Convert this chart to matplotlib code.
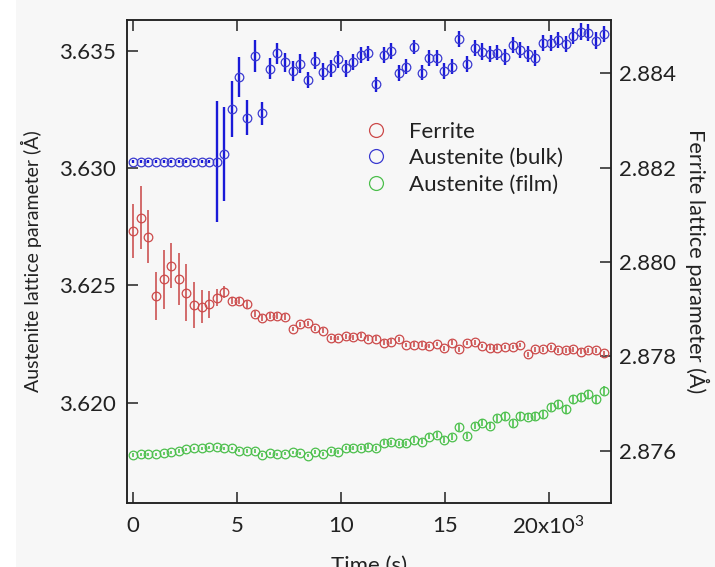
import numpy as np
import matplotlib
matplotlib.use("Agg")
import matplotlib.pyplot as plt
from matplotlib.lines import Line2D
from matplotlib.patches import Rectangle

plt.rcParams['font.family'] = ['Lato', 'DejaVu Sans']
plt.rcParams['mathtext.fontset'] = 'custom'
plt.rcParams['mathtext.rm'] = 'Lato'
plt.rcParams['mathtext.it'] = 'Lato'

# ---------------- data ----------------
time_s = np.arange(63) * 365.0  # sample times (s)

austenite_bulk = [3.63028, 3.63028, 3.63028, 3.63028, 3.63028, 3.63028, 3.63028, 3.63028,
                  3.63028, 3.63028, 3.63028, 3.63028, 3.63061, 3.63252, 3.63388, 3.63216,
                  3.63479, 3.63234, 3.63425, 3.63490, 3.63452, 3.63416, 3.63445, 3.63376,
                  3.63459, 3.63412, 3.63426, 3.63465, 3.63426, 3.63454, 3.63483, 3.63490,
                  3.63359, 3.63483, 3.63500, 3.63407, 3.63433, 3.63518, 3.63407, 3.63471,
                  3.63469, 3.63416, 3.63433, 3.63550, 3.63445, 3.63512, 3.63497, 3.63487,
                  3.63493, 3.63473, 3.63526, 3.63504, 3.63486, 3.63469, 3.63535, 3.63533,
                  3.63547, 3.63530, 3.63564, 3.63582, 3.63578, 3.63543, 3.63572]
austenite_bulk_err = [0.00008, 0.00008, 0.00008, 0.00008, 0.00008, 0.00008, 0.00008, 0.00008,
                      0.00008, 0.00008, 0.00008, 0.00257, 0.00200, 0.00120, 0.00086, 0.00073,
                      0.00069, 0.00048, 0.00045, 0.00044, 0.00040, 0.00043, 0.00040, 0.00036,
                      0.00038, 0.00036, 0.00035, 0.00036, 0.00035, 0.00034, 0.00035, 0.00033,
                      0.00032, 0.00034, 0.00033, 0.00034, 0.00033, 0.00030, 0.00033, 0.00034,
                      0.00033, 0.00034, 0.00033, 0.00034, 0.00033, 0.00034, 0.00035, 0.00034,
                      0.00033, 0.00034, 0.00035, 0.00034, 0.00033, 0.00034, 0.00035, 0.00034,
                      0.00033, 0.00034, 0.00035, 0.00036, 0.00035, 0.00036, 0.00034]

austenite_film = [3.61777, 3.61780, 3.61780, 3.61780, 3.61784, 3.61788, 3.61794, 3.61801,
                  3.61805, 3.61805, 3.61809, 3.61809, 3.61805, 3.61805, 3.61795, 3.61794,
                  3.61794, 3.61777, 3.61784, 3.61780, 3.61783, 3.61788, 3.61784, 3.61774,
                  3.61788, 3.61781, 3.61795, 3.61788, 3.61805, 3.61805, 3.61808, 3.61812,
                  3.61805, 3.61829, 3.61831, 3.61827, 3.61827, 3.61841, 3.61834, 3.61855,
                  3.61862, 3.61840, 3.61855, 3.61895, 3.61858, 3.61900, 3.61914, 3.61902,
                  3.61933, 3.61943, 3.61912, 3.61944, 3.61940, 3.61944, 3.61951, 3.61983,
                  3.61994, 3.61971, 3.62014, 3.62023, 3.62035, 3.62014, 3.62051]
austenite_film_err = [0.00007, 0.00007, 0.00007, 0.00007, 0.00007, 0.00007, 0.00007, 0.00007,
                      0.00007, 0.00007, 0.00007, 0.00007, 0.00007, 0.00007, 0.00007, 0.00007,
                      0.00007, 0.00007, 0.00007, 0.00007, 0.00007, 0.00007, 0.00007, 0.00007,
                      0.00008, 0.00008, 0.00008, 0.00008, 0.00009, 0.00009, 0.00009, 0.00010,
                      0.00010, 0.00010, 0.00011, 0.00011, 0.00011, 0.00012, 0.00012, 0.00012,
                      0.00013, 0.00013, 0.00013, 0.00014, 0.00014, 0.00014, 0.00015, 0.00015,
                      0.00015, 0.00016, 0.00016, 0.00016, 0.00016, 0.00017, 0.00017, 0.00017,
                      0.00017, 0.00018, 0.00018, 0.00018, 0.00018, 0.00018, 0.00018]

ferrite = [2.88066, 2.88094, 2.88054, 2.87928, 2.87963, 2.87992, 2.87963, 2.87935,
           2.87909, 2.87905, 2.87910, 2.87924, 2.87937, 2.87918, 2.87918, 2.87910,
           2.87889, 2.87881, 2.87885, 2.87885, 2.87884, 2.87858, 2.87868, 2.87870,
           2.87859, 2.87854, 2.87839, 2.87839, 2.87842, 2.87840, 2.87844, 2.87837,
           2.87837, 2.87829, 2.87831, 2.87836, 2.87824, 2.87825, 2.87825, 2.87822,
           2.87826, 2.87817, 2.87829, 2.87815, 2.87828, 2.87830, 2.87822, 2.87818,
           2.87818, 2.87820, 2.87820, 2.87824, 2.87804, 2.87815, 2.87815, 2.87819,
           2.87813, 2.87813, 2.87815, 2.87810, 2.87813, 2.87813, 2.87806]
ferrite_err = [0.00057, 0.00067, 0.00057, 0.00051, 0.00062, 0.00048, 0.00055, 0.00061,
               0.00049, 0.00035, 0.00028, 0.00018, 0.00013, 0.00008, 0.00008, 0.00008,
               0.00006, 0.00006, 0.00006, 0.00006, 0.00006, 0.00005, 0.00005, 0.00005,
               0.00005, 0.00005, 0.00005, 0.00005, 0.00005, 0.00005, 0.00005, 0.00005,
               0.00005, 0.00005, 0.00005, 0.00005, 0.00005, 0.00005, 0.00005, 0.00005,
               0.00005, 0.00005, 0.00005, 0.00005, 0.00005, 0.00005, 0.00005, 0.00005,
               0.00005, 0.00005, 0.00005, 0.00005, 0.00005, 0.00005, 0.00005, 0.00005,
               0.00005, 0.00005, 0.00005, 0.00005, 0.00005, 0.00005, 0.00005]

x_ticks = [0, 5000, 10000, 15000, 20000]
x_tick_labels = ['0', '5', '10', '15', r'20x10$^{3}$']
left_ticks = [3.620, 3.625, 3.630, 3.635]
left_tick_labels = ['3.620', '3.625', '3.630', '3.635']
right_ticks = [2.876, 2.878, 2.880, 2.882, 2.884]
right_tick_labels = ['2.876', '2.878', '2.880', '2.882', '2.884']

# ---------------- style ----------------
BG = '#f7f7f7'
RED_M, RED_E = '#cc4a4a', '#d06060'
BLUE_M, BLUE_E = '#3a3ad0', '#1a1ad8'
GREEN_M, GREEN_E = '#4cbf4c', '#5cc85c'
FS = 16

W, H = 715, 567
fig = plt.figure(figsize=(W / 100, H / 100), dpi=100, facecolor=BG)
fig.patches.append(Rectangle((0, 0), 16 / W, 1, transform=fig.transFigure,
                             facecolor='white', edgecolor='none', zorder=-10))

L, R, T, B = 126.7, 610.7, 20, 503
ax = fig.add_axes([L / W, 1 - B / H, (R - L) / W, (B - T) / H])
ax.set_facecolor(BG)
ax2 = ax.twinx()

ms, mew, elw = 6.2, 0.9, 1.3

ax.errorbar(time_s, austenite_film, yerr=austenite_film_err, fmt='o', ms=ms,
            mfc='none', mec=GREEN_M, mew=mew, ecolor=GREEN_E, elinewidth=elw,
            capsize=0, zorder=3)
ax.errorbar(time_s, austenite_bulk, yerr=austenite_bulk_err, fmt='o', ms=ms,
            mfc='none', mec=BLUE_M, mew=mew, ecolor=BLUE_E, elinewidth=1.7,
            capsize=0, zorder=3)
ax2.errorbar(time_s, ferrite, yerr=ferrite_err, fmt='o', ms=ms,
             mfc='none', mec=RED_M, mew=mew, ecolor=RED_E, elinewidth=elw,
             capsize=0, zorder=3)

ax.set_xlim(-317, 22970)
ax.set_ylim(3.61572, 3.63632)
ax2.set_ylim(2.87489, 2.88513)

ax.set_xticks(x_ticks)
ax.set_xticklabels(x_tick_labels, fontsize=FS)
ax.set_yticks(left_ticks)
ax.set_yticklabels(left_tick_labels, fontsize=FS)
ax2.set_yticks(right_ticks)
ax2.set_yticklabels(right_tick_labels, fontsize=FS)

ax.tick_params(axis='x', direction='in', length=8, width=1.1, top=True, pad=9, colors='#222222')
ax.tick_params(axis='y', direction='in', length=8, width=1.1, pad=8, colors='#222222')
ax2.tick_params(axis='y', direction='in', length=8, width=1.1, pad=6, colors='#222222')
for a in (ax, ax2):
    for s in a.spines.values():
        s.set_linewidth(1.1)
        s.set_color('#222222')

ax.set_xlabel('Time (s)', fontsize=FS, labelpad=12, color='#222222')
ax.set_ylabel('Austenite lattice parameter (Å)', fontsize=14, labelpad=12, color='#222222')
ax2.set_ylabel('Ferrite lattice parameter (Å)', fontsize=15.7, rotation=270,
               labelpad=24, color='#222222')

handles = [Line2D([], [], ls='none', marker='o', ms=10, mfc='none', mec=RED_M, mew=mew),
           Line2D([], [], ls='none', marker='o', ms=10, mfc='none', mec=BLUE_M, mew=mew),
           Line2D([], [], ls='none', marker='o', ms=10, mfc='none', mec=GREEN_M, mew=mew)]
leg = ax2.legend(handles, ['Ferrite', 'Austenite (bulk)', 'Austenite (film)'],
                 loc='upper left', bbox_to_anchor=(365 / W, 1 - 122 / H),
                 bbox_transform=fig.transFigure, frameon=False, fontsize=FS,
                 handlelength=1.0, handletextpad=1.0, labelspacing=0.28, borderpad=0,
                 borderaxespad=0)
for t in leg.get_texts():
    t.set_color('#222222')

fig.savefig('out.png', dpi=100, facecolor=BG)
